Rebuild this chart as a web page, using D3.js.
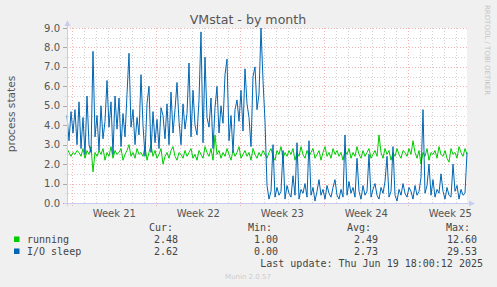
<!DOCTYPE html>
<html>
<head>
<meta charset="utf-8">
<script src="https://cdn.jsdelivr.net/npm/d3@7"></script>
<style>
  body { margin: 0; background: #f0f0f0; }
  svg { display: block; }
</style>
</head>
<body>
<div id="chart"></div>
<script>
// series values, one point every 4 hours
const running = [
  2.8, 2.6, 2.4, 2.6, 2.5, 2.7, 2.6, 2.4, 2.8, 2.3,
  2.7, 2.5, 2.9, 1.6, 2.6, 2.4, 2.7, 2.5, 2.8, 2.2,
  2.6, 2.4, 2.9, 2.3, 2.7, 2.5, 2.6, 2.8, 2.2, 2.5,
  2.7, 3.0, 2.4, 2.6, 2.3, 2.8, 2.5, 2.6, 2.4, 2.9,
  2.2, 2.6, 3.0, 2.4, 2.7, 2.3, 2.5, 2.8, 2.0, 2.4,
  2.6, 2.3, 2.7, 2.9, 2.4, 2.2, 2.6, 2.5, 2.3, 2.7,
  2.4, 2.6, 2.8, 2.3, 2.5, 2.2, 2.7, 2.5, 2.3, 2.9,
  2.6, 2.4, 2.8, 2.2, 3.5, 2.5, 2.7, 2.3, 2.6, 2.4,
  2.8, 2.5, 2.2, 2.7, 2.4, 2.6, 2.9, 2.3, 2.5, 2.7,
  2.4, 2.6, 2.2, 2.8, 2.5, 2.3, 2.6, 2.4, 2.7, 2.5,
  2.3, 2.6, 2.8, 2.4, 2.2, 2.7, 2.5, 2.9, 2.3, 2.6,
  2.4, 2.7, 2.5, 2.8, 2.2, 2.6, 2.4, 2.9, 2.5, 2.3,
  2.7, 2.4, 2.6, 2.8, 2.3, 2.5, 2.7, 2.2, 2.6, 2.9,
  2.4, 2.6, 2.3, 2.8, 2.5, 2.7, 2.4, 2.6, 2.2, 2.7,
  2.5, 2.8, 2.3, 2.6, 2.4, 2.9, 2.5, 2.3, 2.7, 2.4,
  2.6, 2.8, 2.3, 2.5, 2.7, 2.4, 3.5, 2.6, 2.3, 2.8,
  2.5, 2.7, 2.2, 2.6, 2.4, 2.8, 2.5, 2.3, 2.7, 2.6,
  2.4, 2.8, 2.5, 3.2, 2.6, 2.3, 2.7, 2.0, 2.6, 2.4,
  2.8, 2.2, 2.6, 2.5, 2.7, 2.3, 2.9, 2.5, 2.4, 2.7,
  2.3, 2.1, 2.8, 2.5, 2.6, 2.3, 2.9, 2.6, 2.4, 2.8,
  2.5
];

const ioSleep = [
  4.5, 3.2, 4.7, 3.6, 4.8, 3.0, 5.2, 2.8, 4.4, 2.5,
  5.5, 3.0, 2.6, 7.8, 3.4, 4.5, 2.7, 5.0, 3.3, 4.2,
  6.3, 3.9, 5.2, 2.5, 5.5, 3.8, 5.4, 2.9, 4.6, 3.4,
  5.6, 7.7, 3.9, 4.8, 3.0, 4.4, 3.5, 6.6, 4.0, 2.4,
  5.1, 6.0, 2.6, 4.7, 3.1, 4.3, 2.8, 4.9, 4.5, 3.3,
  5.1, 3.0, 5.7, 3.6, 4.8, 6.2, 4.2, 3.0, 5.1, 3.8,
  4.6, 7.2, 3.4, 5.8, 4.0, 3.5, 5.3, 8.8, 3.1, 7.5,
  4.4, 3.9, 5.4, 2.8, 4.9, 6.0, 3.6, 5.0, 4.1, 6.6,
  7.4, 3.2, 4.5, 2.6, 4.8, 5.3, 4.2, 5.8, 3.7, 6.9,
  5.1, 4.4, 2.9, 6.5, 7.0, 4.8, 5.6, 9.0, 6.3, 4.2,
  0.9, 0.2, 0.6, 3.0, 0.3, 0.8, 0.4, 0.6, 2.7, 0.2,
  0.9, 0.5, 0.3, 1.4, 0.4, 3.1, 0.2, 0.7, 0.5, 1.0,
  0.3, 3.2, 0.4, 0.8, 0.1, 0.6, 1.2, 0.4, 0.7, 0.2,
  0.9, 0.5, 0.3, 0.8, 1.2, 0.4, 0.2, 0.7, 0.3, 3.5,
  0.4, 1.1, 0.5, 0.8, 0.3, 2.3, 0.6, 0.2, 0.9, 0.4,
  0.6, 2.5, 0.3, 0.7, 1.0, 0.4, 0.2, 0.8, 0.5, 1.1,
  2.4, 0.3, 0.6, 2.9, 0.4, 0.1, 0.7, 0.4, 1.0, 0.5,
  0.3, 0.8, 0.6, 0.2, 0.9, 0.4, 0.6, 1.3, 4.8, 0.5,
  0.9, 2.0, 0.4, 1.2, 0.3, 0.7, 0.5, 1.5, 0.6, 0.2,
  0.8, 0.4, 0.3, 2.0, 0.6, 0.9, 0.2, 0.7, 0.4, 0.5,
  2.6
];

const weekLabels = ["Week 21", "Week 22", "Week 23", "Week 24", "Week 25"];
const legendNames = ["running", "I/O sleep"];
const legendCur = ["2.48", "2.62"];
const legendMin = ["1.00", "0.00"];
const legendAvg = ["2.49", "2.73"];
const legendMax = ["12.60", "29.53"];

const startTime = Date.UTC(2025, 4, 18, 13, 24);
const stepMs = 4 * 3600 * 1000;

const W = 497, H = 287;
const plot = { left: 67, right: 467, top: 28, bottom: 203 };

const svg = d3.select("#chart").append("svg")
  .attr("width", W)
  .attr("height", H)
  .style("font-family", "'DejaVu Sans', sans-serif");

svg.append("rect").attr("width", W).attr("height", H).attr("fill", "#f0f0f0");

const x = d3.scaleUtc()
  .domain([new Date(startTime), new Date(startTime + 200 * stepMs)])
  .range([plot.left, plot.right]);

const y = d3.scaleLinear().domain([0, 9]).range([plot.bottom, plot.top]);

// plot background
svg.append("rect")
  .attr("x", plot.left).attr("y", plot.top)
  .attr("width", plot.right - plot.left).attr("height", plot.bottom - plot.top)
  .attr("fill", "#ffffff");

// grid - days (minor) and weeks (major)
const days = d3.utcDay.range(x.domain()[0], x.domain()[1]);
const weeks = d3.utcMonday.range(x.domain()[0], x.domain()[1]);

const grid = svg.append("g").attr("shape-rendering", "crispEdges");
const minorColor = "#d2d2d2", majorColor = "#f3b3b3";

grid.selectAll(".vminor").data(days).enter().append("line")
  .attr("x1", d => Math.round(x(d)) + 0.5).attr("x2", d => Math.round(x(d)) + 0.5)
  .attr("y1", plot.top).attr("y2", plot.bottom + 2)
  .attr("stroke", minorColor).attr("stroke-dasharray", "1,2");

const yMinor = d3.range(1, 18).map(d => d / 2).filter(d => d % 1 !== 0);
const yMajor = d3.range(1, 10);

grid.selectAll(".hminor").data(yMinor).enter().append("line")
  .attr("x1", plot.left - 2).attr("x2", plot.right)
  .attr("y1", d => Math.round(y(d)) + 0.5).attr("y2", d => Math.round(y(d)) + 0.5)
  .attr("stroke", minorColor).attr("stroke-dasharray", "1,2");

grid.selectAll(".vmajor").data(weeks).enter().append("line")
  .attr("x1", d => Math.round(x(d)) + 0.5).attr("x2", d => Math.round(x(d)) + 0.5)
  .attr("y1", plot.top).attr("y2", plot.bottom + 3)
  .attr("stroke", majorColor).attr("stroke-dasharray", "1,2");

grid.selectAll(".hmajor").data(yMajor).enter().append("line")
  .attr("x1", plot.left - 3).attr("x2", plot.right)
  .attr("y1", d => Math.round(y(d)) + 0.5).attr("y2", d => Math.round(y(d)) + 0.5)
  .attr("stroke", majorColor).attr("stroke-dasharray", "1,2");

// y ticks on the left of the axis
grid.selectAll(".ytick").data(d3.range(0, 10)).enter().append("line")
  .attr("x1", plot.left - 4).attr("x2", plot.left)
  .attr("y1", d => Math.round(y(d)) + 0.5).attr("y2", d => Math.round(y(d)) + 0.5)
  .attr("stroke", "#aaaaaa");

// data lines
const line = d3.line()
  .x((d, i) => x(new Date(startTime + i * stepMs)))
  .y(d => y(d));

svg.append("path").datum(running)
  .attr("d", line).attr("fill", "none")
  .attr("stroke", "#00cc00").attr("stroke-width", 1);

svg.append("path").datum(ioSleep)
  .attr("d", line).attr("fill", "none")
  .attr("stroke", "#0066b3").attr("stroke-width", 1);

// axes with arrows
const axisColor = "#c8cdf0";
svg.append("line")
  .attr("x1", plot.left + 0.5).attr("x2", plot.left + 0.5)
  .attr("y1", plot.bottom + 3).attr("y2", plot.top - 5)
  .attr("stroke", axisColor);
svg.append("path")
  .attr("d", `M${plot.left - 2.5},${plot.top - 2} L${plot.left + 0.5},${plot.top - 8} L${plot.left + 3.5},${plot.top - 2} Z`)
  .attr("fill", axisColor);
svg.append("line")
  .attr("x1", plot.left - 3).attr("x2", plot.right + 4)
  .attr("y1", plot.bottom + 0.5).attr("y2", plot.bottom + 0.5)
  .attr("stroke", axisColor);
svg.append("path")
  .attr("d", `M${plot.right + 2},${plot.bottom - 2.5} L${plot.right + 8},${plot.bottom + 0.5} L${plot.right + 2},${plot.bottom + 3.5} Z`)
  .attr("fill", axisColor);

// y labels
svg.append("g").selectAll("text").data(d3.range(0, 10)).enter().append("text")
  .attr("x", 60).attr("y", d => y(d) + 3.5)
  .attr("text-anchor", "end")
  .attr("font-size", 10).attr("fill", "#555")
  .text(d => d.toFixed(1));

// week labels centred in each week
svg.append("g").selectAll("text").data(weeks).enter().append("text")
  .attr("x", d => x(d3.utcHour.offset(d, 84)))
  .attr("y", 217)
  .attr("text-anchor", "middle")
  .attr("font-size", 10).attr("fill", "#555")
  .text((d, i) => weekLabels[i]);

// titles
svg.append("text")
  .attr("x", 248).attr("y", 24)
  .attr("text-anchor", "middle")
  .attr("font-size", 12.6).attr("fill", "#555")
  .text("VMstat - by month");

svg.append("text")
  .attr("transform", "translate(15,114) rotate(-90)")
  .attr("text-anchor", "middle")
  .attr("font-size", 10.6).attr("fill", "#555")
  .text("process states");

svg.append("text")
  .attr("transform", "translate(485,5) rotate(90)")
  .attr("text-anchor", "start")
  .attr("font-size", 7).attr("fill", "#c4c4c4")
  .text("RRDTOOL / TOBI OETIKER");

// legend
const mono = "'DejaVu Sans Mono', monospace";
const legend = svg.append("g").style("font-family", mono).attr("font-size", 10).attr("fill", "#444");

const cols = [
  { head: "Cur:", headX: 173, valX: 178, vals: legendCur },
  { head: "Min:", headX: 272, valX: 278, vals: legendMin },
  { head: "Avg:", headX: 371, valX: 378, vals: legendAvg },
  { head: "Max:", headX: 470, valX: 477, vals: legendMax }
];

cols.forEach(c => {
  legend.append("text").attr("x", c.headX).attr("y", 231)
    .attr("text-anchor", "end").text(c.head);
  c.vals.forEach((v, i) => {
    legend.append("text").attr("x", c.valX).attr("y", 243 + i * 12)
      .attr("text-anchor", "end").text(v);
  });
});

const colors = ["#00cc00", "#0066b3"];
legendNames.forEach((n, i) => {
  legend.append("rect")
    .attr("x", 14).attr("y", 236.5 + i * 12)
    .attr("width", 5.5).attr("height", 5.5)
    .attr("fill", colors[i]);
  legend.append("text").attr("x", 27).attr("y", 243 + i * 12).text(n);
});

legend.append("text").attr("x", 483).attr("y", 267)
  .attr("text-anchor", "end").text("Last update: Thu Jun 19 18:00:12 2025");

svg.append("text")
  .attr("x", 248).attr("y", 279)
  .attr("text-anchor", "middle")
  .attr("font-size", 7).attr("fill", "#cccccc")
  .text("Munin 2.0.57");
</script>
</body>
</html>
